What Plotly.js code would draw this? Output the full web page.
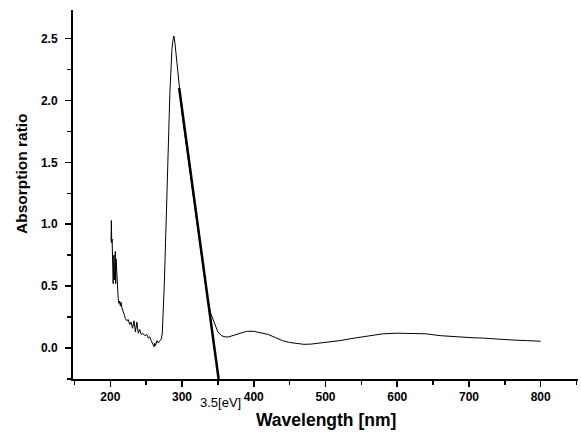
<!DOCTYPE html>
<html>
<head>
<meta charset="utf-8">
<script src="https://cdn.plot.ly/plotly-3.0.1.min.js"></script>
<style>html,body{margin:0;padding:0;background:#fff;}#chart{width:581px;height:434px;}</style>
</head>
<body>
<div id="chart"></div>
<script>
// Wavelength (nm) and absorption ratio of the measured spectrum
const wavelength = [201,201.5,202,202.5,203,203.5,204,205,205.5,206,207,207.5,208,209,210,211,212,213,214,215,216,217,219,221,223,225,227,229,231,233,235,237,239,241,243,245,248,251,253,255,257,259,261,262,263,265,267,269,271,272.5,274,275.5,277,278.5,280,281.5,283,284.5,286,287.5,288.7,290,292,296,300,305,310,315,320,325,330,335,340,345,350,355,360,365,370,380,390,400,410,420,430,440,450,460,470,480,500,520,540,560,580,600,620,640,660,680,700,720,740,760,780,800];
const absorption = [0.86,1.03,0.85,0.88,0.70,0.60,0.52,0.75,0.62,0.55,0.78,0.52,0.72,0.62,0.45,0.40,0.36,0.38,0.34,0.37,0.33,0.31,0.28,0.24,0.22,0.23,0.19,0.21,0.16,0.22,0.13,0.21,0.12,0.15,0.11,0.12,0.10,0.11,0.08,0.09,0.06,0.04,0.01,0.04,0.02,0.06,0.04,0.06,0.07,0.12,0.30,0.55,0.85,1.10,1.40,1.75,2.05,2.30,2.42,2.49,2.52,2.47,2.35,2.08,1.90,1.68,1.47,1.26,1.05,0.83,0.62,0.42,0.28,0.20,0.13,0.10,0.09,0.09,0.10,0.12,0.135,0.135,0.125,0.11,0.085,0.06,0.045,0.035,0.03,0.032,0.045,0.06,0.08,0.10,0.115,0.12,0.12,0.115,0.10,0.09,0.085,0.08,0.07,0.065,0.06,0.055];
// Tangent line (band-edge extrapolation)
const tangentX = [296, 351];
const tangentY = [2.10, -0.25];
const bandgapLabel = "3.5[eV]";
const bandgapX = 354;
const xTitle = "Wavelength [nm]";
const yTitle = "Absorption ratio";

const fontFam = "Liberation Sans, Arial, Helvetica, sans-serif";

const traces = [
  {x: wavelength, y: absorption, mode: 'lines', line: {color: '#000', width: 1}, hoverinfo: 'skip'},
  {x: tangentX, y: tangentY, mode: 'lines', line: {color: '#000', width: 2.5}, hoverinfo: 'skip'}
];

const layout = {
  width: 581, height: 434,
  margin: {l: 73, r: 3, t: 10, b: 55},
  paper_bgcolor: '#fff', plot_bgcolor: '#fff',
  showlegend: false,
  font: {family: fontFam, color: '#000'},
  xaxis: {
    range: [148, 852], dtick: 100, tick0: 0,
    showgrid: false, zeroline: false,
    showline: true, linecolor: '#000', linewidth: 2,
    ticks: 'outside', ticklen: 6, tickwidth: 1.5, tickcolor: '#000',
    minor: {dtick: 50, ticks: 'outside', ticklen: 4, tickwidth: 1.5, tickcolor: '#000'},
    tickfont: {family: fontFam, size: 12, weight: 'bold', color: '#000'}
  },
  yaxis: {
    range: [-0.25, 2.73], dtick: 0.5, tick0: 0, tickformat: '.1f',
    showgrid: false, zeroline: false,
    showline: true, linecolor: '#000', linewidth: 2,
    ticks: 'outside', ticklen: 6, tickwidth: 1.5, tickcolor: '#000',
    minor: {dtick: 0.25, ticks: 'outside', ticklen: 4, tickwidth: 1.5, tickcolor: '#000'},
    ticklabelstandoff: 5,
    tickfont: {family: fontFam, size: 12, weight: 'bold', color: '#000'}
  },
  annotations: [
    {
      x: bandgapX, xref: 'x', y: 0, yref: 'paper', yanchor: 'top', yshift: -14,
      text: bandgapLabel, showarrow: false,
      font: {family: fontFam, size: 13, color: '#000'}
    },
    {
      x: 0.5, xref: 'paper', y: 0, yref: 'paper', yanchor: 'middle', yshift: -41,
      text: xTitle, showarrow: false,
      font: {family: fontFam, size: 17.5, weight: 'bold', color: '#000'}
    },
    {
      x: 0, xref: 'paper', xshift: -51, y: 0.5556, yref: 'paper',
      xanchor: 'center', yanchor: 'middle', textangle: -90,
      text: yTitle, showarrow: false,
      font: {family: fontFam, size: 15.5, weight: 'bold', color: '#000'}
    }
  ]
};

Plotly.newPlot('chart', traces, layout, {displayModeBar: false, staticPlot: true});
</script>
</body>
</html>
